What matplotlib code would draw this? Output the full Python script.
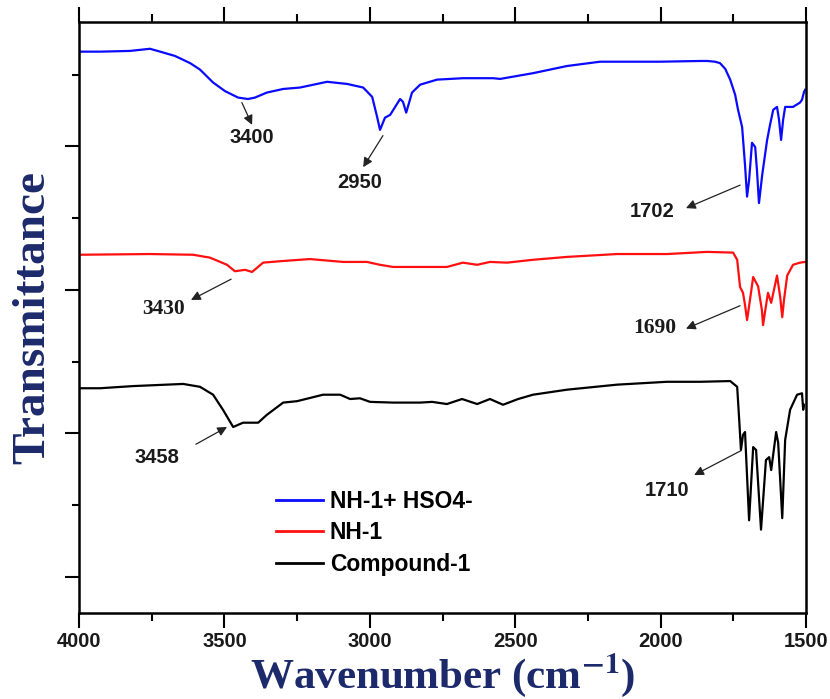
import matplotlib
matplotlib.use("Agg")
import matplotlib.pyplot as plt
from matplotlib.ticker import MultipleLocator

# wavenumber (cm-1) / transmittance (a.u.)
wn_hso4 = [4000, 3928, 3825, 3756, 3721, 3670, 3618, 3584, 3539, 3498, 3453, 3419, 3395, 3354,
           3298, 3240, 3147, 3078, 3023, 2992, 2975, 2965, 2948, 2930, 2896, 2886, 2875, 2855,
           2827, 2769, 2680, 2576, 2552, 2439, 2322, 2208, 2002, 1864, 1840, 1813, 1796, 1778,
           1761, 1744, 1734, 1720, 1710, 1703, 1696, 1686, 1675, 1669, 1662, 1651, 1634, 1624,
           1613, 1600, 1593, 1586, 1579, 1572, 1545, 1521, 1514, 1507, 1503]
t_hso4 = [93.2, 93.2, 93.3, 93.6, 93.2, 92.6, 91.6, 90.7, 88.9, 87.7, 86.8, 86.6, 86.8, 87.5,
          88.0, 88.2, 89.0, 88.7, 88.2, 86.9, 84.1, 82.3, 84.0, 84.4, 86.6, 86.2, 84.7, 87.5,
          88.6, 89.3, 89.5, 89.5, 89.4, 90.2, 91.2, 91.8, 91.8, 91.9, 91.9, 91.8, 91.6, 90.8,
          89.3, 87.2, 85.1, 82.7, 77.4, 73.0, 75.3, 80.5, 79.9, 76.7, 72.1, 76.0, 80.9, 83.0,
          85.1, 85.5, 83.7, 80.9, 83.7, 85.5, 85.5, 86.1, 86.5, 87.6, 87.9]

wn_nh1 = [4000, 3756, 3608, 3550, 3491, 3464, 3429, 3405, 3367, 3309, 3206, 3092, 3010, 2965,
          2920, 2803, 2735, 2680, 2631, 2587, 2528, 2439, 2322, 2150, 1978, 1840, 1751, 1737,
          1727, 1717, 1710, 1703, 1693, 1682, 1665, 1652, 1648, 1641, 1631, 1620, 1600, 1589,
          1582, 1576, 1565, 1545, 1521, 1503]
t_nh1 = [64.9, 65.0, 64.9, 64.5, 63.5, 62.6, 62.8, 62.5, 63.8, 64.0, 64.3, 63.9, 63.9, 63.5,
         63.2, 63.2, 63.2, 63.8, 63.5, 63.9, 63.8, 64.2, 64.6, 65.0, 65.0, 65.3, 65.2, 64.2,
         60.4, 59.6, 57.9, 55.8, 58.6, 61.8, 60.5, 57.2, 55.1, 57.0, 59.6, 58.2, 62.0, 59.0,
         56.2, 58.6, 62.0, 63.5, 63.8, 63.9]

wn_cmp = [4000, 3928, 3814, 3642, 3584, 3539, 3505, 3470, 3436, 3384, 3354, 3298, 3250, 3161,
          3102, 3068, 3034, 2999, 2920, 2827, 2786, 2735, 2683, 2631, 2587, 2542, 2490, 2439,
          2322, 2150, 1978, 1864, 1761, 1737, 1730, 1724, 1717, 1710, 1696, 1682, 1672, 1655,
          1638, 1627, 1620, 1603, 1596, 1582, 1572, 1555, 1531, 1514, 1510, 1507]
t_cmp = [46.3, 46.3, 46.6, 46.9, 46.5, 45.4, 43.3, 40.9, 41.5, 41.5, 42.6, 44.3, 44.5, 45.4,
         45.4, 44.8, 44.9, 44.4, 44.3, 44.3, 44.4, 44.1, 44.8, 44.1, 44.8, 44.0, 44.8, 45.4,
         46.1, 46.8, 47.2, 47.2, 47.3, 46.5, 41.9, 37.7, 39.8, 40.2, 27.9, 38.1, 37.7, 26.6,
         36.3, 36.7, 34.9, 40.2, 38.7, 28.2, 39.1, 43.3, 45.4, 45.6, 43.3, 44.0]

# peak labels: text, text pos, arrow tail, arrow head, serif?
peak_txt = ["3400", "2950", "1702", "3430", "1690", "3458", "1710"]
peak_pos = [(3405, 81.3), (3034, 74.9), (2030, 70.9), (3711, 57.4), (2019, 54.7), (3732, 36.6), (1978, 32.0)]
peak_tail = [(3440, 86.1), (2955, 81.5), (1727, 74.6), (3477, 61.5), (1727, 57.8), (3598, 38.5), (1724, 37.6)]
peak_head = [(3405, 83.0), (3023, 77.1), (1913, 71.4), (3615, 58.6), (1913, 54.6), (3491, 40.9), (1885, 34.2)]
peak_serif = [False, False, False, True, True, False, False]

navy = "#1c2a6b"
plt.rcParams["mathtext.fontset"] = "stix"

fig = plt.figure(figsize=(8.3, 6.99), dpi=100)
ax = fig.add_axes([0.0952, 0.123, 0.876, 0.845])

ax.plot(wn_hso4, t_hso4, color="#0a0aff", lw=1.6, label="NH-1+ HSO4-")
ax.plot(wn_nh1, t_nh1, color="#ff0f0f", lw=1.6, label="NH-1")
ax.plot(wn_cmp, t_cmp, color="black", lw=1.6, label="Compound-1")

for txt, p, a, b, s in zip(peak_txt, peak_pos, peak_tail, peak_head, peak_serif):
    ax.annotate("", xy=b, xytext=a,
                arrowprops=dict(arrowstyle="-|>", color="#222222", lw=0.9, mutation_scale=14,
                                shrinkA=0, shrinkB=0))
    if s:
        ax.text(p[0], p[1], txt, ha="center", va="center", fontsize=15.5, fontweight="bold",
                family="Liberation Serif", color="#1a1a1a")
    else:
        ax.text(p[0], p[1], txt, ha="center", va="center", fontsize=14.5, fontweight="bold",
                family="Liberation Sans", color="#1a1a1a")

ax.set_xlim(4000, 1500)
ax.set_ylim(14.98, 97.28)
ax.xaxis.set_major_locator(MultipleLocator(500))
ax.xaxis.set_minor_locator(MultipleLocator(250))
ax.yaxis.set_major_locator(MultipleLocator(20))
ax.yaxis.set_minor_locator(MultipleLocator(10))
ax.set_yticklabels([])

ax.tick_params(axis="x", which="both", direction="out", top=True, bottom=True, width=1.5, pad=3)
ax.tick_params(axis="x", which="major", length=11)
ax.tick_params(axis="x", which="minor", length=6)
ax.tick_params(axis="y", which="both", direction="out", left=True, right=False, width=1.5)
ax.tick_params(axis="y", which="major", length=10)
ax.tick_params(axis="y", which="minor", length=5)
for lab in ax.get_xticklabels():
    lab.set_family("Liberation Sans")
    lab.set_fontweight("bold")
    lab.set_fontsize(14.5)
    lab.set_color("#1a1a1a")
for sp in ax.spines.values():
    sp.set_linewidth(1.8)

ax.set_xlabel(r"Wavenumber (cm$^{\mathbf{-1}}$)", family="Liberation Serif", fontweight="bold",
              fontsize=31, color=navy, labelpad=0)
ax.set_ylabel("Transmittance", family="Liberation Serif", fontweight="bold",
              fontsize=34, color=navy, labelpad=4)

leg = ax.legend(loc="upper left", bbox_to_anchor=(0.271, 0.208), frameon=False,
                borderaxespad=0, borderpad=0, handlelength=2.05, handletextpad=0.3,
                labelspacing=0.36, prop=dict(family="Liberation Sans", weight="bold", size=16.5))
for line in leg.get_lines():
    line.set_linewidth(2)

fig.savefig("out.png", dpi=100)
